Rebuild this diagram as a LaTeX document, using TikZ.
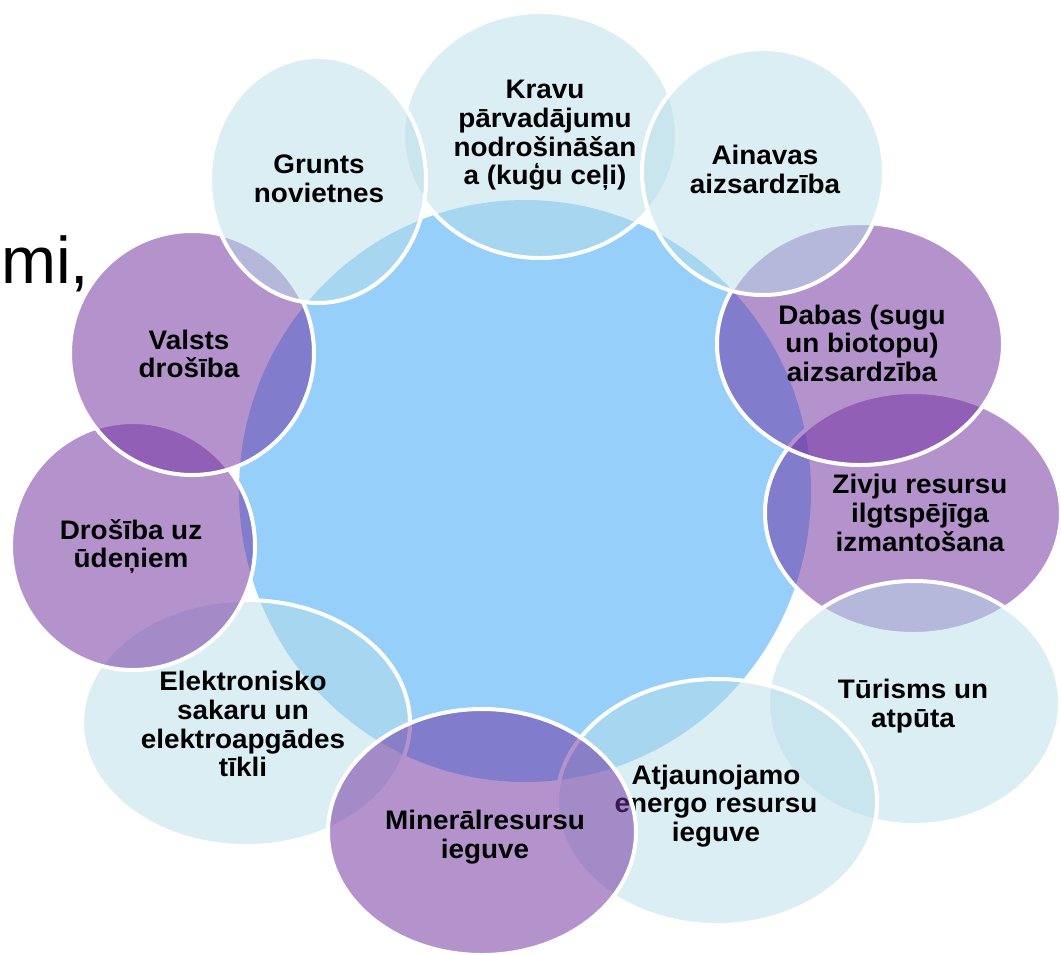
\documentclass[tikz,border=0pt]{standalone}
\usepackage{fontspec}
\setmainfont{Liberation Sans}
\newfontfamily\lblfont{Liberation Sans}[FakeStretch=1.04]
\usetikzlibrary{shapes.geometric}
\definecolor{cblue}{RGB}{149,207,250}
\definecolor{cpurple}{RGB}{112,48,160}
\definecolor{cteal}{RGB}{183,222,232}
\newcommand{\toprl}{\vrule height 0.95em depth 0pt width 0pt}
\newcommand{\botrl}{\vrule height 0pt depth 0.25em width 0pt}
\begin{document}
\begin{tikzpicture}[x=1pt,y=-1pt,
  bubble/.style={ellipse, inner sep=0pt, draw=white, line width=4pt},
  purpbub/.style={bubble, fill=cpurple, fill opacity=0.52},
  lightbub/.style={bubble, fill=cteal, fill opacity=0.5},
  lbl/.style={align=center, inner sep=0pt, font=\lblfont\bfseries\fontsize{26.8}{28.7}\selectfont, text=black}]
\useasboundingbox (0,0) rectangle (1061,954);
% central circle
\node[ellipse, inner sep=0pt, fill=cblue, minimum width=572pt, minimum height=582pt] (hub) at (525,491) {};
% Kravu
\node[lightbub, minimum width=274pt, minimum height=246pt] (kravu) at (540,135) {};
\node[lbl] (kravu-t) at (545,132.5) {\toprl Kravu\\pārvadājumu\\nodrošināšan\\a (kuģu ceļi)\botrl};
% Zivju
\node[purpbub, minimum width=296pt, minimum height=242pt] (zivju) at (913,513) {};
\node[lbl] (zivju-t) at (920,513) {\toprl Zivju resursu\\ilgtspējīga\\izmantošana\botrl};
% Dabas
\node[purpbub, minimum width=286pt, minimum height=242pt] (dabas) at (860,344) {};
\node[lbl] (dabas-t) at (862,343.5) {\toprl Dabas (sugu\\un biotopu)\\aizsardzība\botrl};
% Ainavas
\node[lightbub, minimum width=242pt, minimum height=246pt] (ainavas) at (763,172) {};
\node[lbl] (ainavas-t) at (765,169.5) {\toprl Ainavas\\aizsardzība\botrl};
% Turisms
\node[lightbub, minimum width=292pt, minimum height=244pt] (turisms) at (914,703) {};
\node[lbl] (turisms-t) at (913,703.5) {\toprl Tūrisms un\\atpūta\botrl};
% Atjaunojamo
\node[lightbub, minimum width=320pt, minimum height=246pt] (atjaun) at (717,802) {};
\node[lbl] (atjaun-t) at (716,803.5) {\toprl Atjaunojamo\\energo resursu\\ieguve\botrl};
% Elektronisko
\node[lightbub, minimum width=328pt, minimum height=246pt] (elektr) at (246,723) {};
\node[lbl] (elektr-t) at (243,724.5) {\toprl Elektronisko\\sakaru un\\elektroapgādes\\tīkli\botrl};
% Mineral
\node[purpbub, minimum width=308pt, minimum height=246pt] (miner) at (482,832) {};
\node[lbl] (miner-t) at (485,834.5) {\toprl Minerālresursu\\ieguve\botrl};
% Drosiba uz udeniem
\node[purpbub, minimum width=244pt, minimum height=248pt] (udeni) at (133,546) {};
\node[lbl] (udeni-t) at (131,544) {\toprl Drošība uz\\ūdeņiem\botrl};
% Valsts
\node[purpbub, minimum width=244pt, minimum height=244pt] (valsts) at (192,353) {};
\node[lbl] (valsts-t) at (189,354) {\toprl Valsts\\drošība\botrl};
% Grunts
\node[lightbub, minimum width=216pt, minimum height=246pt] (grunts) at (318,180) {};
\node[lbl] (grunts-t) at (319,178.5) {\toprl Grunts\\novietnes\botrl};
% stray slide text
\node[anchor=base west, inner sep=0pt, font=\fontsize{66}{80}\selectfont] (mi) at (1,283) {mi,};
\end{tikzpicture}
\end{document}
